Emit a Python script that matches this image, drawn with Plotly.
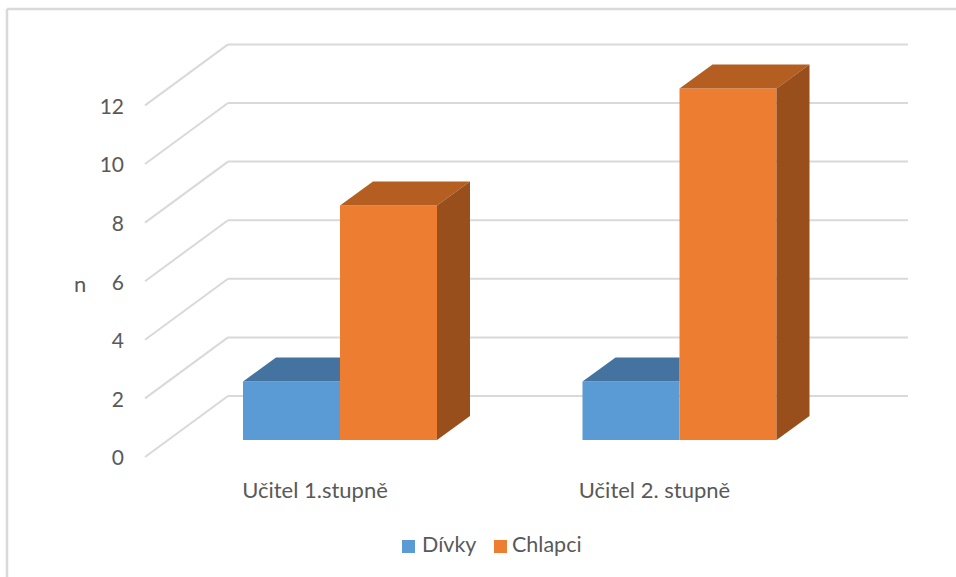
"""Grouped column chart with an Excel-style 3D look."""

import plotly.graph_objects as go

CATEGORIES = ["Učitel 1.stupně", "Učitel 2. stupně"]
DIVKY = [2, 2]
CHLAPCI = [8, 12]
Y_TICKS = [0, 2, 4, 6, 8, 10, 12]

W, H = 956, 577
BLUE, ORANGE = "#5B9BD5", "#ED7D31"
BLUE_TOP = "#44739F"
ORANGE_TOP, ORANGE_SIDE = "#B55E22", "#984F1C"
GRID = "#D9D9D9"
TEXT = "#595959"
FONT = "Lato, sans-serif"

# scale of the picture: category 0 sits at 340 px, value 0 at 440 px
PX_PER_CAT = 339.5
PX_PER_VAL = 29.3
X0_PX, Y0_PX = 340, 440
BAR_W = 97 / PX_PER_CAT
DEPTH_X, DEPTH_Y = 33 / PX_PER_CAT, 24 / PX_PER_VAL
X_RANGE = [-X0_PX / PX_PER_CAT, (W - X0_PX) / PX_PER_CAT]
Y_RANGE = [(Y0_PX - H) / PX_PER_VAL, Y0_PX / PX_PER_VAL]

# floor and walls
WALL_LEFT = (228 - X0_PX) / PX_PER_CAT
WALL_RIGHT = (908 - X0_PX) / PX_PER_CAT
FRONT_LEFT = (145 - X0_PX) / PX_PER_CAT
WALL_DY = 44 / PX_PER_VAL
FRONT_DY = -17 / PX_PER_VAL
LABEL_DY = -18 / PX_PER_VAL

xs = list(range(len(CATEGORIES)))

fig = go.Figure()
for name, values, color in [("Dívky", DIVKY, BLUE), ("Chlapci", CHLAPCI, ORANGE)]:
    fig.add_trace(
        go.Bar(
            x=xs,
            y=values,
            name=name,
            marker={"color": color, "line": {"width": 0}},
            showlegend=False,
        )
    )


def face(px, py, color):
    fig.add_trace(
        go.Scatter(
            x=px,
            y=py,
            mode="lines",
            fill="toself",
            fillcolor=color,
            line={"width": 0},
            showlegend=False,
            hoverinfo="skip",
        )
    )


for x, blue, orange in zip(xs, DIVKY, CHLAPCI):
    left, right = x - BAR_W, x + BAR_W
    # blue top stops at the orange front face
    face(
        [left, x, x, left + DEPTH_X, left],
        [blue, blue, blue + DEPTH_Y, blue + DEPTH_Y, blue],
        BLUE_TOP,
    )
    face(
        [x, right, right + DEPTH_X, x + DEPTH_X, x],
        [orange, orange, orange + DEPTH_Y, orange + DEPTH_Y, orange],
        ORANGE_TOP,
    )
    face(
        [right, right + DEPTH_X, right + DEPTH_X, right, right],
        [0, DEPTH_Y, orange + DEPTH_Y, orange, 0],
        ORANGE_SIDE,
    )

# empty trace so the offset label axes get drawn
fig.add_trace(
    go.Scatter(
        x=xs,
        y=DIVKY,
        xaxis="x2",
        yaxis="y2",
        mode="markers",
        marker={"opacity": 0},
        showlegend=False,
        hoverinfo="skip",
    )
)

shapes = []
for v in Y_TICKS:
    for x0, y0, x1, y1 in [
        (FRONT_LEFT, v + FRONT_DY, WALL_LEFT, v + WALL_DY),
        (WALL_LEFT, v + WALL_DY, WALL_RIGHT, v + WALL_DY),
    ]:
        shapes.append(
            {
                "type": "line",
                "layer": "below",
                "xref": "x",
                "yref": "y",
                "x0": x0,
                "y0": y0,
                "x1": x1,
                "y1": y1,
                "line": {"color": GRID, "width": 2},
            }
        )

# chart frame: left and top edge only show in the crop
for x0, y0, x1, y1 in [(7 / W, 0, 7 / W, 1 - 9 / H), (7 / W, 1 - 9 / H, 1, 1 - 9 / H)]:
    shapes.append(
        {
            "type": "line",
            "xref": "paper",
            "yref": "paper",
            "x0": x0,
            "y0": y0,
            "x1": x1,
            "y1": y1,
            "line": {"color": GRID, "width": 2.5},
        }
    )

annotations = [
    {
        "text": "n",
        "xref": "paper",
        "yref": "paper",
        "x": 80 / W,
        "y": 1 - 283 / H,
        "xanchor": "center",
        "yanchor": "middle",
        "showarrow": False,
        "font": {"size": 22, "color": TEXT, "family": FONT},
    }
]

# legend drawn by hand: the built-in one leaves too wide a gap after the swatch
for label, color, swatch_px, text_px in [
    ("Dívky", BLUE, 402, 422),
    ("Chlapci", ORANGE, 494, 512),
]:
    shapes.append(
        {
            "type": "rect",
            "xref": "paper",
            "yref": "paper",
            "x0": swatch_px / W,
            "x1": (swatch_px + 13) / W,
            "y0": 1 - 553 / H,
            "y1": 1 - 540 / H,
            "fillcolor": color,
            "line": {"width": 0},
        }
    )
    annotations.append(
        {
            "text": label,
            "xref": "paper",
            "yref": "paper",
            "x": text_px / W,
            "y": 1 - 544 / H,
            "xanchor": "left",
            "yanchor": "middle",
            "showarrow": False,
            "xshift": -2,
            "font": {"size": 21.5, "color": TEXT, "family": FONT},
        }
    )

fig.update_layout(
    width=W,
    height=H,
    margin={"l": 0, "r": 0, "t": 0, "b": 0},
    paper_bgcolor="white",
    plot_bgcolor="white",
    barmode="group",
    bargap=1 - 2 * BAR_W,
    bargroupgap=0,
    shapes=shapes,
    annotations=annotations,
    xaxis={"range": X_RANGE, "visible": False, "domain": [0, 1]},
    yaxis={"range": Y_RANGE, "visible": False, "domain": [0, 1]},
    # label axes, shifted against the bars as the front edge of the floor is
    xaxis2={
        "overlaying": "x",
        "range": [X_RANGE[0] + 25 / PX_PER_CAT, X_RANGE[1] + 25 / PX_PER_CAT],
        "anchor": "free",
        "position": 1 - 475 / H,
        "side": "bottom",
        "tickvals": xs,
        "ticktext": CATEGORIES,
        "ticks": "",
        "showgrid": False,
        "showline": False,
        "zeroline": False,
        "tickfont": {"size": 22, "color": TEXT, "family": FONT},
    },
    yaxis2={
        "overlaying": "y",
        "range": [Y_RANGE[0] - LABEL_DY, Y_RANGE[1] - LABEL_DY],
        "anchor": "free",
        "position": 124 / W,
        "side": "left",
        "tickvals": Y_TICKS,
        "ticks": "",
        "ticklabelstandoff": 0,
        "showgrid": False,
        "showline": False,
        "zeroline": False,
        "tickfont": {"size": 21, "color": TEXT, "family": FONT},
    },
)

fig.write_html(
    "out.html",
    config={"displayModeBar": False},
    post_script="document.body.style.margin='0';",
)
